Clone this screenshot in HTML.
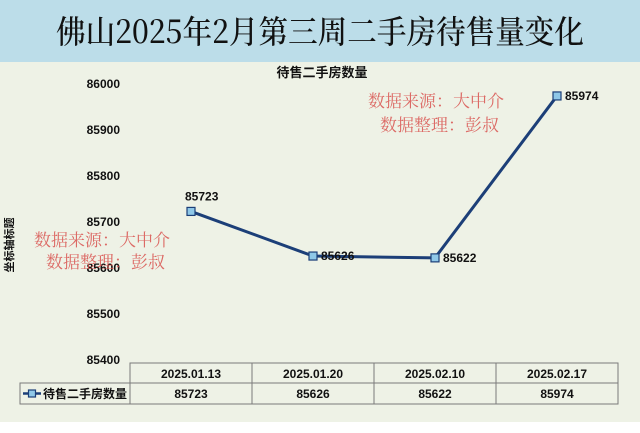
<!DOCTYPE html>
<html><head><meta charset="utf-8"><style>
body{margin:0;width:640px;height:428px;overflow:hidden;background:#fff;font-family:"Liberation Sans","Noto Sans CJK SC",sans-serif}
</style></head><body>
<svg width="640" height="428" xmlns="http://www.w3.org/2000/svg">
<rect x="0" y="0" width="640" height="62" fill="#bcdde9"/>
<rect x="0" y="62" width="640" height="360" fill="#eef2e6"/>
<text x="320" y="43" text-anchor="middle" font-family="'Noto Serif CJK SC',serif" font-size="32" font-weight="500" fill="#111" textLength="528" lengthAdjust="spacingAndGlyphs">佛山2025年2月第三周二手房待售量变化</text>
<text x="322" y="77" text-anchor="middle" font-size="13" font-weight="bold" fill="#111">待售二手房数量</text>
<text transform="translate(13,245) rotate(-90)" text-anchor="middle" font-size="11" font-weight="bold" fill="#111">坐标轴标题</text>
<g id="yticks"></g>
<g id="table" font-size="12" font-weight="bold" fill="#111"></g>
<g id="series"></g>
<g font-family="'Noto Serif CJK SC',serif" font-size="17" fill="#d9534f" opacity="0.85">
<text x="368" y="107">数据来源：大中介</text>
<text x="380" y="131">数据整理：彭叔</text>
<text x="34" y="246">数据来源：大中介</text>
<text x="46" y="268">数据整理：彭叔</text>
</g>
</svg>
<script>
const categories=["2025.01.13","2025.01.20","2025.02.10","2025.02.17"];
const values=[85723,85626,85622,85974];
const yTicks=[85400,85500,85600,85700,85800,85900,86000];
const seriesName="待售二手房数量";
const NS="http://www.w3.org/2000/svg";
const yMin=85400,yMax=86000,yTop=84,yBot=360;
const x0=130,colW=122;
const ys=v=>yBot-(v-yMin)/(yMax-yMin)*(yBot-yTop);
const xs=i=>x0+colW*(i+0.5);
function mk(tag,attrs,parent,text){const e=document.createElementNS(NS,tag);for(const k in attrs)e.setAttribute(k,attrs[k]);if(text!=null)e.textContent=text;parent.appendChild(e);return e;}
const yt=document.getElementById('yticks');
yTicks.forEach(t=>{const e=mk('text',{x:120,y:ys(t)+4,'text-anchor':'end','font-size':12,'font-weight':'bold',fill:'#111'},yt,t);

});
const tb=document.getElementById('table');
const ln={stroke:'#7a7a7a','stroke-width':1,fill:'none'};
let r=mk('rect',Object.assign({x:x0,y:363,width:colW*categories.length,height:41},ln),tb);


let r2=mk('rect',Object.assign({x:20,y:383,width:x0-20,height:21},ln),tb);


mk('line',Object.assign({x1:x0,x2:x0+colW*categories.length,y1:383,y2:383},ln),tb);
categories.forEach((c,i)=>{
 if(i>0)mk('line',Object.assign({x1:x0+colW*i,x2:x0+colW*i,y1:363,y2:404},ln),tb);
 const h=mk('text',{x:xs(i),y:378,'text-anchor':'middle'},tb,c);
 
 
 const v=mk('text',{x:xs(i),y:398,'text-anchor':'middle'},tb,values[i]);
 
 
});
mk('line',{x1:23,x2:41,y1:393.5,y2:393.5,stroke:'#1c3f78','stroke-width':2.5},tb);
const lm=mk('rect',{x:28.5,y:390,width:7,height:7,fill:'#8fc8e8',stroke:'#1c3f78','stroke-width':1.2},tb);


const lt=mk('text',{x:43,y:398},tb,seriesName);


const sg=document.getElementById('series');
const pl=mk('polyline',{points:values.map((v,i)=>xs(i)+','+ys(v)).join(' '),fill:'none',stroke:'#1c3f78','stroke-width':3},sg);


values.forEach((v,i)=>{
 const m=mk('rect',{x:xs(i)-4,y:ys(v)-4,width:8,height:8,fill:'#8fc8e8',stroke:'#1c3f78','stroke-width':1.2},sg);
 
 
 const t=mk('text',{x:xs(i)+(i==0?-6:8),y:ys(v)+(i==0?-11:4),'font-size':12,'font-weight':'bold',fill:'#111'},sg,v);
 
 
});
</script>
</body></html>
